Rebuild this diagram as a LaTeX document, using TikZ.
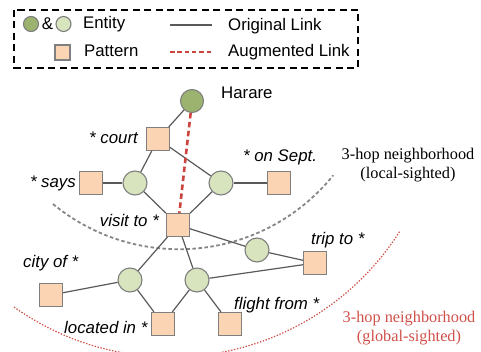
\documentclass[tikz,border=0pt]{standalone}
\usepackage{fontspec}
\setmainfont{Liberation Sans}
\newfontfamily\labelfont{Liberation Sans}
\newfontfamily\hoodfont{Liberation Serif}
\definecolor{entdark}{HTML}{9BB36E}
\definecolor{entlight}{HTML}{D7E4BD}
\definecolor{patfill}{HTML}{FBD4B4}
\definecolor{nodeline}{HTML}{7F7F7F}
\definecolor{edgecol}{HTML}{595959}
\definecolor{augred}{HTML}{C9453E}
\definecolor{hoodred}{HTML}{D0504A}
\definecolor{hoodgray}{HTML}{858585}
\tikzset{
  entity/.style={circle, draw=nodeline, line width=1.1pt, minimum size=#1, inner sep=0pt},
  entity/.default=24pt,
  pattern/.style={rectangle, draw=nodeline, fill=patfill, line width=1.1pt, minimum size=#1, inner sep=0pt},
  pattern/.default=23pt,
  link/.style={draw=edgecol, line width=1.2pt},
  auglink/.style={draw=augred, line width=2.6pt, dash pattern=on 5.5pt off 3.5pt},
  lbl/.style={font=\labelfont\itshape\fontsize{16.8}{18}\selectfont, inner sep=0pt},
  legtext/.style={font=\labelfont\fontsize{16.8}{18}\selectfont, inner sep=0pt, anchor=base west},
  hood/.style={font=\hoodfont\fontsize{16.3}{19}\selectfont, inner sep=0pt, align=center}
}
\begin{document}
\begin{tikzpicture}[x=1pt,y=-1pt]
\useasboundingbox (0,0) rectangle (481,352);
\clip (0,0) rectangle (481,352);

% legend
\draw[line width=1.4pt, dash pattern=on 7pt off 4.5pt] (14,10) rectangle (358,68);
\node[entity=15pt, fill=entdark] (ld) at (31,24) {};
\node[inner sep=0pt, font=\labelfont\fontsize{17}{18}\selectfont] (amp) at (47.5,23.5) {\&};
\node[entity=15pt, fill=entlight] (ll) at (63.5,24) {};
\node[legtext] (lent) at (83,29) {Entity};
\node[pattern=15pt] (lpat) at (62.5,52.5) {};
\node[legtext] (lpt) at (84,57) {Pattern};
\coordinate (o1) at (170,25);
\coordinate (o2) at (212,25);
\draw[link, line width=2pt] (o1) -- (o2);
\coordinate (a1) at (170,52);
\coordinate (a2) at (212,52);
\draw[draw=augred, line width=2pt, dash pattern=on 4.5pt off 2.8pt] (a1) -- (a2);
\node[legtext] (lorig) at (228,31) {Original Link};
\node[legtext] (laug) at (228,57) {Augmented Link};

% neighborhood boundaries
\draw[hoodgray, line width=1.8pt, dash pattern=on 3.5pt off 2.5pt]
  (53,204) arc[start angle=129.5, end angle=38.8, radius=198];
\draw[hoodred, line width=1.2pt, dash pattern=on 1.4pt off 1.6pt]
  (14,307) arc[start angle=125.4, end angle=32.3, radius=271];

% nodes
\node[entity=23pt, fill=entdark] (H) at (192,101) {};
\node[pattern] (court) at (158,139) {};
\node[entity, fill=entlight] (cL) at (135,183) {};
\node[entity, fill=entlight] (cR) at (221,183) {};
\node[pattern] (says) at (91,183) {};
\node[pattern] (sept) at (279,183) {};
\node[pattern] (visit) at (178,225) {};
\node[entity, fill=entlight] (cT) at (257,250) {};
\node[pattern] (trip) at (315,263) {};
\node[entity, fill=entlight] (cC) at (130,280) {};
\node[entity, fill=entlight] (cF) at (197,280) {};
\node[pattern] (city) at (51,295) {};
\node[pattern] (loc) at (163,324) {};
\node[pattern] (flight) at (230,324) {};

% links
\draw[link] (H) -- (court);
\draw[link] (court) -- (cL);
\draw[link] (court) -- (cR);
\draw[link] (says) -- (cL);
\draw[link] (cL) -- (visit);
\draw[link] (cR) -- (visit);
\draw[link] (cR) -- (sept);
\draw[link] (visit) -- (cT);
\draw[link] (cT) -- (trip);
\draw[link] (visit) -- (cC);
\draw[link] (visit) -- (cF);
\draw[link] (cC) -- (city);
\draw[link] (cC) -- (loc);
\draw[link] (cF) -- (loc);
\draw[link] (cF) -- (flight);
\draw[link] (cF) -- (trip);
\draw[auglink] (H) -- (visit);

% labels
\node[legtext] (tH) at (221,99) {Harare};
\node[lbl, anchor=base east] (tcourt) at (138,144) {* court};
\node[lbl, anchor=base east] (tsays) at (76,188) {* says};
\node[lbl, anchor=base west] (tsept) at (243,162) {* on Sept.};
\node[lbl, anchor=base east] (tvisit) at (159,227) {visit to *};
\node[lbl, anchor=base west] (ttrip) at (311,244) {trip to *};
\node[lbl, anchor=base west] (tcity) at (23,268) {city of *};
\node[lbl, anchor=base west] (tloc) at (64,333) {located in *};
\node[lbl, anchor=base west] (tflight) at (234,309) {flight from *};

\node[hood, anchor=base] (hl1) at (408,160) {3-hop neighborhood};
\node[hood, anchor=base] (hl2) at (408,179) {(local-sighted)};
\node[hood, anchor=base, text=hoodred] (hg1) at (409,322) {3-hop neighborhood};
\node[hood, anchor=base, text=hoodred] (hg2) at (409,341) {(global-sighted)};
\end{tikzpicture}
\end{document}
